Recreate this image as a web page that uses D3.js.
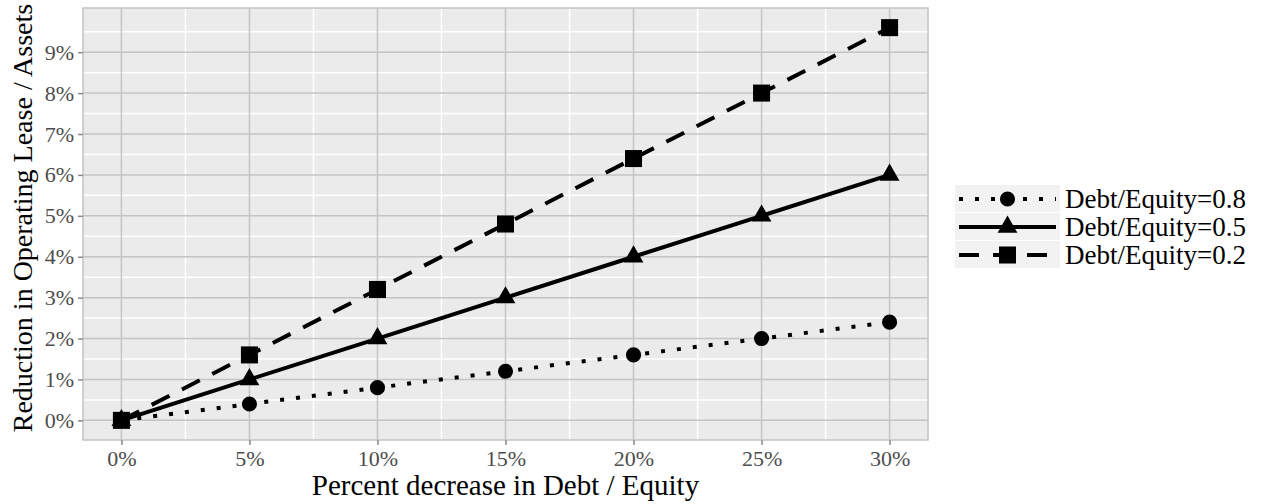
<!DOCTYPE html>
<html>
<head>
<meta charset="utf-8">
<script src="https://cdn.jsdelivr.net/npm/d3@7"></script>
<style>
  body { margin: 0; background: #ffffff; }
  svg { display: block; font-family: "Liberation Serif", "Times New Roman", serif; }
</style>
</head>
<body>
<div id="chart"></div>
<script>
// data
var xValues = [0, 5, 10, 15, 20, 25, 30]
var seriesNames = ['Debt/Equity=0.8', 'Debt/Equity=0.5', 'Debt/Equity=0.2']
var de08 = [0, 0.4, 0.8, 1.2, 1.6, 2.0, 2.4]
var de05 = [0, 1, 2, 3, 4, 5, 6]
var de02 = [0, 1.6, 3.2, 4.8, 6.4, 8.0, 9.6]
var xTicks = [0, 5, 10, 15, 20, 25, 30]
var yTicks = [0, 1, 2, 3, 4, 5, 6, 7, 8, 9]

var series = [
  { name: seriesNames[0], values: de08, dash: '4,12', shape: 'circle' },
  { name: seriesNames[1], values: de05, dash: null, shape: 'triangle' },
  { name: seriesNames[2], values: de02, dash: '20,14', shape: 'square' }
]

var W = 1265, H = 504
var margin = { top: 8, right: 337, bottom: 64, left: 83 }
var width = W - margin.left - margin.right,
    height = H - margin.top - margin.bottom

var svg = d3.select('#chart')
  .append('svg')
  .attr('width', W)
  .attr('height', H)

var g = svg.append('g')
  .attr('transform', 'translate(' + margin.left + ',' + margin.top + ')')

// ggplot style 5% expansion
var x = d3.scaleLinear().domain([-1.5, 31.5]).range([0, width])
var y = d3.scaleLinear().domain([-0.48, 10.08]).range([height, 0])

// panel
g.append('rect')
  .attr('width', width)
  .attr('height', height)
  .attr('fill', '#ebebeb')

// minor grid (white)
var xMinor = xTicks.slice(0, -1).map(function (d) { return d + 2.5 })
var yMinor = yTicks.map(function (d) { return d + 0.5 })
g.selectAll('.xminor').data(xMinor).enter().append('line')
  .attr('x1', function (d) { return x(d) }).attr('x2', function (d) { return x(d) })
  .attr('y1', 0).attr('y2', height)
  .attr('stroke', '#ffffff').attr('stroke-width', 1.5)
g.selectAll('.yminor').data(yMinor).enter().append('line')
  .attr('y1', function (d) { return y(d) }).attr('y2', function (d) { return y(d) })
  .attr('x1', 0).attr('x2', width)
  .attr('stroke', '#ffffff').attr('stroke-width', 1.5)

// major grid (gray)
g.selectAll('.xmajor').data(xTicks).enter().append('line')
  .attr('x1', function (d) { return x(d) }).attr('x2', function (d) { return x(d) })
  .attr('y1', 0).attr('y2', height)
  .attr('stroke', '#c4c4c4').attr('stroke-width', 1.5)
g.selectAll('.ymajor').data(yTicks).enter().append('line')
  .attr('y1', function (d) { return y(d) }).attr('y2', function (d) { return y(d) })
  .attr('x1', 0).attr('x2', width)
  .attr('stroke', '#c4c4c4').attr('stroke-width', 1.5)

// border
g.append('rect')
  .attr('width', width)
  .attr('height', height)
  .attr('fill', 'none')
  .attr('stroke', '#c4c4c4')
  .attr('stroke-width', 1.5)

// axes
var xAxis = g.append('g')
  .attr('transform', 'translate(0,' + height + ')')
  .call(d3.axisBottom(x).tickValues(xTicks).tickSize(5).tickPadding(5)
    .tickFormat(function (d) { return d + '%' }))
var yAxis = g.append('g')
  .call(d3.axisLeft(y).tickValues(yTicks).tickSize(5).tickPadding(4)
    .tickFormat(function (d) { return d + '%' }))

;[xAxis, yAxis].forEach(function (a) {
  a.select('.domain').remove()
  a.selectAll('.tick line').attr('stroke', '#8a8a8a').attr('stroke-width', 1.5)
  a.selectAll('.tick text')
    .style('font-family', '"Liberation Serif", serif')
    .style('font-size', '22px')
    .attr('fill', '#4d4d4d')
})

// lines
var line = d3.line()
  .x(function (d, i) { return x(xValues[i]) })
  .y(function (d) { return y(d) })

var symbolFor = {
  circle: d3.symbol().type(d3.symbolCircle).size(180),
  triangle: d3.symbol().type(d3.symbolTriangle).size(170),
  square: d3.symbol().type(d3.symbolSquare).size(290)
}

series.forEach(function (s) {
  g.append('path')
    .datum(s.values)
    .attr('d', line)
    .attr('fill', 'none')
    .attr('stroke', '#000000')
    .attr('stroke-width', 4)
    .attr('stroke-dasharray', s.dash)

  g.selectAll('.pt-' + s.shape)
    .data(s.values)
    .enter()
    .append('path')
    .attr('d', symbolFor[s.shape])
    .attr('transform', function (d, i) { return 'translate(' + x(xValues[i]) + ',' + y(d) + ')' })
    .attr('fill', '#000000')
})

// axis titles
svg.append('text')
  .attr('x', margin.left + width / 2)
  .attr('y', 495)
  .attr('text-anchor', 'middle')
  .style('font-size', '29px')
  .attr('fill', '#000000')
  .text('Percent decrease in Debt / Equity')

svg.append('text')
  .attr('text-anchor', 'middle')
  .attr('transform', 'translate(' + 32 + ',' + 218 + ')rotate(-90)')
  .style('font-size', '28px')
  .attr('fill', '#000000')
  .text('Reduction in Operating Lease / Assets')

// legend
var legX = 955, legY = 185, rowH = 28, keyW = 105
var leg = svg.append('g').attr('transform', 'translate(' + legX + ',' + legY + ')')
series.forEach(function (s, i) {
  var row = leg.append('g').attr('transform', 'translate(0,' + (i * rowH) + ')')
  row.append('rect')
    .attr('width', keyW)
    .attr('height', rowH - 1)
    .attr('fill', '#f2f2f2')
  row.append('line')
    .attr('x1', 4).attr('x2', keyW - 4)
    .attr('y1', rowH / 2).attr('y2', rowH / 2)
    .attr('stroke', '#000000')
    .attr('stroke-width', 4)
    .attr('stroke-dasharray', s.dash)
  row.append('path')
    .attr('d', symbolFor[s.shape])
    .attr('transform', 'translate(' + (keyW / 2) + ',' + (rowH / 2) + ')')
    .attr('fill', '#000000')
  row.append('text')
    .attr('x', keyW + 5)
    .attr('y', rowH / 2 + 9)
    .style('font-size', '27px')
    .attr('fill', '#000000')
    .text(s.name)
})
</script>
</body>
</html>
